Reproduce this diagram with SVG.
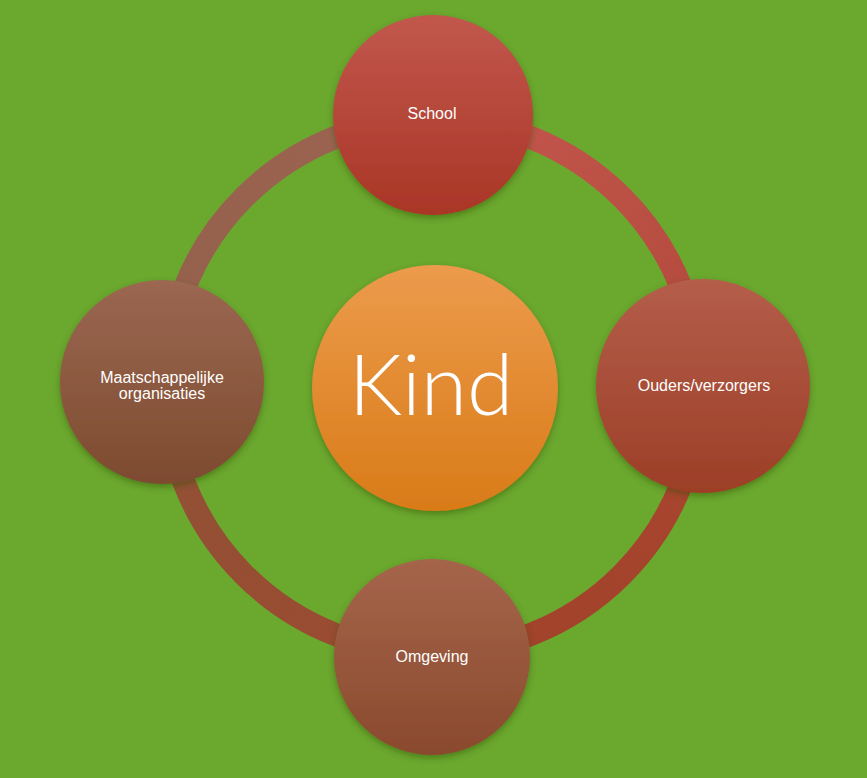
<svg xmlns="http://www.w3.org/2000/svg" width="867" height="778" viewBox="0 0 867 778">
<defs>
<style>
.lbl{font-family:"Liberation Sans",Arial,sans-serif;font-size:16px;fill:#ffffff;text-anchor:middle}
.big{font-family:"Lato","Liberation Sans",sans-serif;font-weight:300;font-size:84px;fill:#ffffff;text-anchor:middle}
.ring{fill:none;stroke-width:23}
</style>
<filter id="sh" x="-20%" y="-20%" width="140%" height="145%">
<feDropShadow dx="0" dy="3" stdDeviation="3" flood-color="#2a4a10" flood-opacity="0.45"/>
</filter>
<linearGradient id="gSchool" x1="0" y1="0" x2="0" y2="1"><stop offset="0" stop-color="#c2574d"/><stop offset="1" stop-color="#a93626"/></linearGradient>
<linearGradient id="gOuders" x1="0" y1="0" x2="0" y2="1"><stop offset="0" stop-color="#b45e4a"/><stop offset="1" stop-color="#9c3e27"/></linearGradient>
<linearGradient id="gOmg" x1="0" y1="0" x2="0" y2="1"><stop offset="0" stop-color="#a5654b"/><stop offset="1" stop-color="#8a4a2d"/></linearGradient>
<linearGradient id="gMaat" x1="0" y1="0" x2="0" y2="1"><stop offset="0" stop-color="#9b6751"/><stop offset="1" stop-color="#7d4b2f"/></linearGradient>
<linearGradient id="gKind" x1="0" y1="0" x2="0" y2="1"><stop offset="0" stop-color="#ec9b4c"/><stop offset="1" stop-color="#d97b18"/></linearGradient>
<linearGradient id="a1" gradientUnits="userSpaceOnUse" x1="433" y1="119" x2="700" y2="386"><stop offset="0" stop-color="#c4574f"/><stop offset="1" stop-color="#b2493a"/></linearGradient>
<linearGradient id="a2" gradientUnits="userSpaceOnUse" x1="700" y1="386" x2="433" y2="653"><stop offset="0" stop-color="#a9452f"/><stop offset="1" stop-color="#a0422a"/></linearGradient>
<linearGradient id="a3" gradientUnits="userSpaceOnUse" x1="433" y1="653" x2="166" y2="386"><stop offset="0" stop-color="#9c4a30"/><stop offset="1" stop-color="#905236"/></linearGradient>
<linearGradient id="a4" gradientUnits="userSpaceOnUse" x1="166" y1="386" x2="433" y2="119"><stop offset="0" stop-color="#93604a"/><stop offset="1" stop-color="#9c6452"/></linearGradient>
</defs>
<rect x="0" y="0" width="867" height="778" fill="#6ba82e"/>
<g id="connectors">
<path class="ring" stroke="url(#a1)" d="M433,119 A267,267 0 0 1 700,386"/>
<path class="ring" stroke="url(#a2)" d="M700,386 A267,267 0 0 1 433,653"/>
<path class="ring" stroke="url(#a3)" d="M433,653 A267,267 0 0 1 166,386"/>
<path class="ring" stroke="url(#a4)" d="M166,386 A267,267 0 0 1 433,119"/>
</g>
<g id="kind">
<circle cx="435" cy="388" r="123" fill="url(#gKind)" filter="url(#sh)"/>
<text class="big" x="431" y="415">Kind</text>
</g>
<g id="school">
<circle cx="433" cy="115" r="100" fill="url(#gSchool)" filter="url(#sh)"/>
<text class="lbl" x="432" y="119">School</text>
</g>
<g id="ouders">
<circle cx="703" cy="386" r="107" fill="url(#gOuders)" filter="url(#sh)"/>
<text class="lbl" x="704" y="391">Ouders/verzorgers</text>
</g>
<g id="omgeving">
<circle cx="432" cy="657" r="98" fill="url(#gOmg)" filter="url(#sh)"/>
<text class="lbl" x="432" y="662">Omgeving</text>
</g>
<g id="maatschappelijke">
<circle cx="162" cy="382" r="102" fill="url(#gMaat)" filter="url(#sh)"/>
<text class="lbl" x="162" y="383">Maatschappelijke</text>
<text class="lbl" x="162" y="399">organisaties</text>
</g>
</svg>
